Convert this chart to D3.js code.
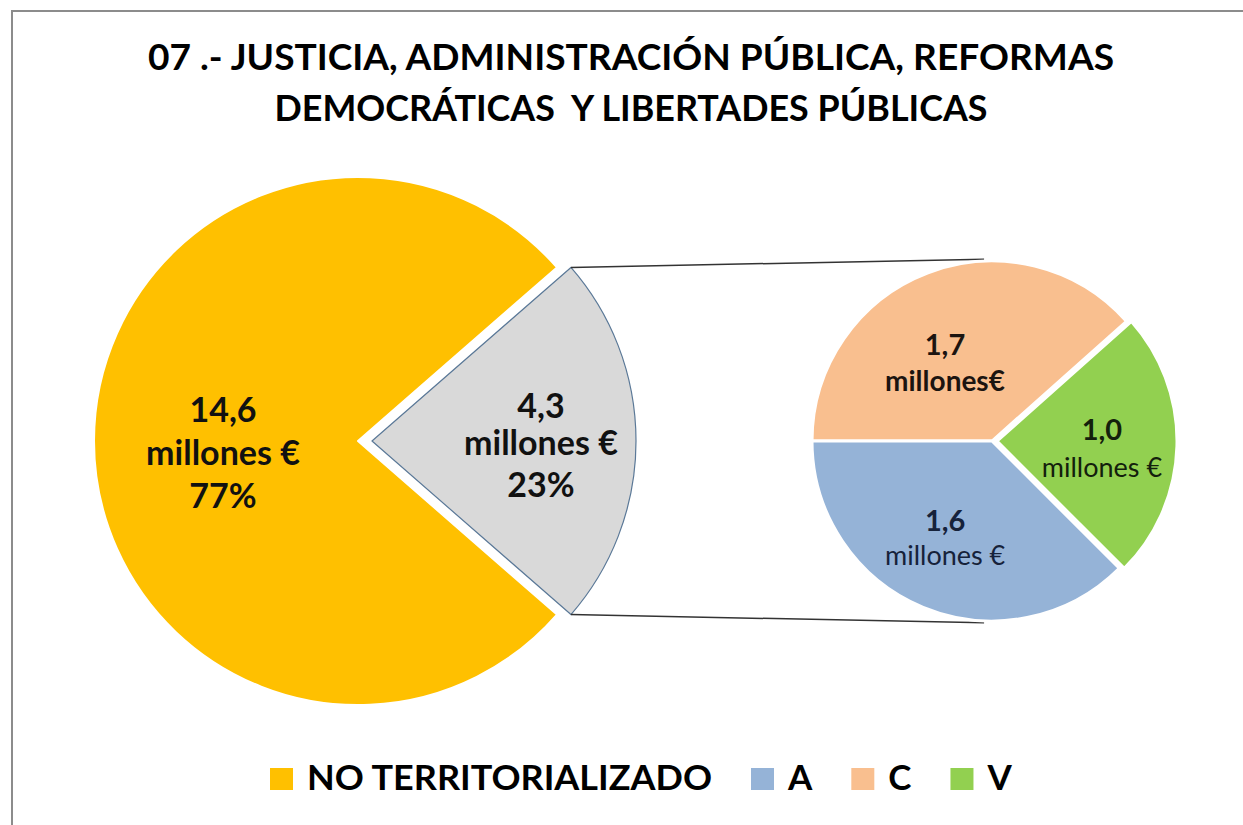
<!DOCTYPE html>
<html>
<head>
<meta charset="utf-8">
<script src="https://cdn.jsdelivr.net/npm/d3@7"></script>
<style>
  html, body { margin: 0; padding: 0; background: #fff; overflow: hidden; }
  svg { display: block; font-family: Lato, "Open Sans", sans-serif; }
</style>
</head>
<body>
<svg id="chart" width="1243" height="825"></svg>
<script>
// ---- data ----
const titleLines = ["07 .- JUSTICIA, ADMINISTRACIÓN PÚBLICA, REFORMAS", "DEMOCRÁTICAS  Y LIBERTADES PÚBLICAS"];
const mainCategories = ["NO TERRITORIALIZADO", "RESTO"];
const mainValue = 14.6;                 // millones €, no territorializado
const subCategories = ["C", "V", "A"];  // order round the small pie
const subValues = [1.66, 1.04, 1.62];   // millones € (labels 1,7 / 1,0 / 1,6)
const legendItems = ["NO TERRITORIALIZADO", "A", "C", "V"];

const colors = {
  "NO TERRITORIALIZADO": "#FFC000",
  "RESTO": "#D9D9D9",
  "A": "#95B3D7",
  "C": "#F9BF8F",
  "V": "#92D050"
};

const svg = d3.select("#chart");
const W = 1243, H = 825;

// frame (only left & top edges are visible in the shot)
svg.append("path")
  .attr("d", `M12,${H} V11 H${W}`)
  .attr("fill", "none")
  .attr("stroke", "#8c8c8c").attr("stroke-width", 2);

// title
const title = svg.append("g");
const titleY = [70, 121];
const titleLen = [966, 713];
titleLines.forEach((t, i) => {
  title.append("text")
    .attr("x", 631).attr("y", titleY[i])
    .attr("text-anchor", "middle")
    .attr("font-size", 36).attr("font-weight", 700)
    .attr("fill", "#000")
    .style("white-space", "pre")
    .attr("textLength", titleLen[i])
    .attr("lengthAdjust", "spacingAndGlyphs")
    .text(t);
});

const fmt = v => d3.format(".1f")(v).replace(".", ",");
const pct = d3.format(".0%");

// ---- main pie ----
const subTotal = d3.sum(subValues);
const mainData = [
  { key: mainCategories[0], value: mainValue },
  { key: mainCategories[1], value: subTotal }
];
const total = d3.sum(mainData, d => d.value);
const gAngle = subTotal / total * 2 * Math.PI;

const main = { cx: 358, cy: 441, r: 264, explode: 14 };
const mainPie = d3.pie().sort(null).value(d => d.value)
  .startAngle(Math.PI / 2 + gAngle / 2)
  .endAngle(Math.PI / 2 + gAngle / 2 + 2 * Math.PI);
const mainArcs = mainPie(mainData);
const mainArc = d3.arc().innerRadius(0).outerRadius(main.r);

const gMain = svg.append("g").attr("transform", `translate(${main.cx},${main.cy})`);

function offset(a, dist) {
  const m = (a.startAngle + a.endAngle) / 2;
  return [Math.sin(m) * dist, -Math.cos(m) * dist];
}

const mainSlices = gMain.selectAll("g.slice").data(mainArcs).join("g")
  .attr("class", "slice")
  .attr("transform", (d, i) => {
    const [dx, dy] = offset(d, i === 1 ? main.explode : 0);
    return `translate(${dx},${dy})`;
  });

mainSlices.append("path")
  .attr("d", mainArc)
  .attr("fill", d => colors[d.data.key])
  .attr("stroke", (d, i) => i === 1 ? "#5a7897" : "#fff")
  .attr("stroke-width", (d, i) => i === 1 ? 1.2 : 2)
  .attr("stroke-linejoin", "round");

// label placement: fraction of radius, then line baselines relative to that point
const mainLabel = [
  { r: 0.5, dx: -3, lines: [-19, 24, 67] },
  { r: 0.64, dx: 0, lines: [-23, 14, 56] }
];
mainSlices.each(function (d, i) {
  const o = mainLabel[i];
  const [lx, ly] = offset(d, main.r * o.r);
  const t = d3.select(this).append("text")
    .attr("text-anchor", "middle")
    .attr("font-weight", 700).attr("font-size", 34)
    .attr("fill", "#111");
  const lines = [fmt(d.value), "millones €", pct(d.value / total)];
  lines.forEach((s, k) => {
    t.append("tspan")
      .attr("x", lx + o.dx)
      .attr("y", ly + o.lines[k])
      .text(s);
  });
});

// ---- small pie ----
const sub = { cx: 992, cy: 441, r: 180, explode: 5 };
const subData = subCategories.map((k, i) => ({ key: k, value: subValues[i] }));
const subPie = d3.pie().sort(null).value(d => d.value)
  .startAngle(-Math.PI / 2).endAngle(1.5 * Math.PI);
const subArcs = subPie(subData);
const subArc = d3.arc().innerRadius(0).outerRadius(sub.r);

// connector lines from the grey slice to the small pie
const grey = mainArcs[1];
const [gx, gy] = offset(grey, main.explode);
const apex = [main.cx + gx, main.cy + gy];
const corner = a => [apex[0] + Math.sin(a) * main.r, apex[1] - Math.cos(a) * main.r];
const endA = -0.044;
const subTop = [sub.cx + Math.sin(endA) * sub.r, sub.cy - Math.cos(endA) * sub.r - 2];
const subBot = [sub.cx + Math.sin(endA) * sub.r, sub.cy + Math.cos(endA) * sub.r + 2];
const connectors = [
  [corner(grey.startAngle), subTop],
  [corner(grey.endAngle), subBot]
];
svg.append("g").selectAll("line").data(connectors).join("line")
  .attr("x1", d => d[0][0]).attr("y1", d => d[0][1])
  .attr("x2", d => d[1][0]).attr("y2", d => d[1][1])
  .attr("stroke", "#333").attr("stroke-width", 1.5);

const gSub = svg.append("g").attr("transform", `translate(${sub.cx},${sub.cy})`);
const subSlices = gSub.selectAll("g.slice").data(subArcs).join("g")
  .attr("class", "slice")
  .attr("transform", d => {
    const [dx, dy] = offset(d, d.data.key === "V" ? sub.explode : 0);
    return `translate(${dx},${dy})`;
  });

subSlices.append("path")
  .attr("d", subArc)
  .attr("fill", d => colors[d.data.key])
  .attr("stroke", "#fff").attr("stroke-width", 3)
  .attr("stroke-linejoin", "round");

const subLabel = {
  C: { r: 0.5, dx: -15, dy: -2, gap: 36, unit: "millones€", bold: true, size: 28, c: "#1c1410" },
  V: { r: 0.6, dx: -3, dy: -4, gap: 37, unit: "millones €", bold: false, size: 27, c: "#13200c" },
  A: { r: 0.55, dx: -9, dy: -1, gap: 34, unit: "millones €", bold: false, size: 27, c: "#16223a" }
};
subSlices.each(function (d) {
  const o = subLabel[d.data.key];
  const [lx, ly] = offset(d, sub.r * o.r);
  const g = d3.select(this);
  g.append("text")
    .attr("x", lx + o.dx).attr("y", ly + o.dy)
    .attr("text-anchor", "middle")
    .attr("font-weight", 700).attr("font-size", 29)
    .attr("fill", o.c)
    .text(fmt(d.value));
  g.append("text")
    .attr("x", lx + o.dx).attr("y", ly + o.dy + o.gap)
    .attr("text-anchor", "middle")
    .attr("font-weight", o.bold ? 700 : 400).attr("font-size", o.size)
    .attr("fill", o.c)
    .text(o.unit);
});

// ---- legend ----
const legend = svg.append("g").attr("transform", "translate(270,790)");
let lxPos = 0;
legendItems.forEach(k => {
  const item = legend.append("g").attr("transform", `translate(${lxPos},0)`);
  item.append("rect")
    .attr("x", 0).attr("y", -22)
    .attr("width", 23).attr("height", 22)
    .attr("fill", colors[k]);
  const t = item.append("text")
    .attr("x", 37).attr("y", 0)
    .attr("font-size", 35).attr("font-weight", 700)
    .attr("fill", "#000")
    .text(k);
  if (k === "NO TERRITORIALIZADO") t.attr("textLength", 405).attr("lengthAdjust", "spacingAndGlyphs");
  const w = k === "NO TERRITORIALIZADO" ? 405 : t.node().getComputedTextLength();
  lxPos += 37 + w + 39;
});
</script>
</body>
</html>
